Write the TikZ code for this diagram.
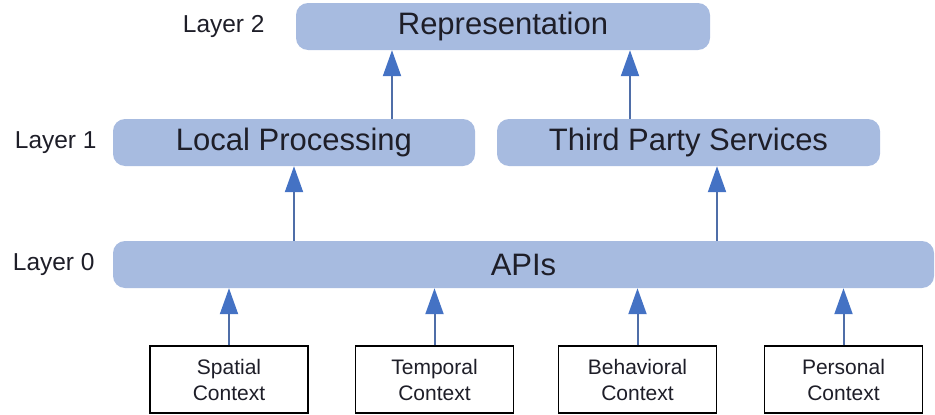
\documentclass[tikz,border=0pt]{standalone}
\usepackage{fontspec}
\setmainfont{Liberation Sans}
\usetikzlibrary{positioning,arrows.meta}
\definecolor{layerblue}{RGB}{167,187,224}
\definecolor{arrowline}{RGB}{79,110,168}
\definecolor{arrowhead}{RGB}{68,114,196}
\definecolor{textdark}{RGB}{30,30,40}
\tikzset{
  layerbox/.style={fill=layerblue, rounded corners=12pt, inner sep=0pt,
    minimum height=47pt, text=textdark, font=\fontsize{31}{36}\selectfont},
  ctxbox/.style={draw=black, line width=1.3pt, fill=white, inner sep=0pt,
    minimum width=158pt, minimum height=67pt, align=center, text=textdark,
    font=\fontsize{21}{26}\selectfont},
  layerlabel/.style={inner sep=0pt, text=textdark, font=\fontsize{24.5}{28}\selectfont},
  flow/.style={draw=arrowline, line width=2pt,
    -{Triangle[length=26pt,width=18pt,fill=arrowhead,color=arrowhead]}}
}
\begin{document}
\begin{tikzpicture}[x=1pt,y=-1pt]
\useasboundingbox (0,0) rectangle (935,415);
% layers
\node[layerbox, minimum width=414pt] (rep) at (503,26.5) {Representation};
\node[layerbox, minimum width=362pt] (local) at (294,142.5) {Local Processing};
\node[layerbox, minimum width=383pt] (third) at (688.5,142.5) {Third Party Services};
\node[layerbox, minimum width=821pt] (apis) at (523.5,264.5) {APIs};
% layer names
\node[layerlabel, left=31pt of rep] (lay2) {Layer 2};
\node[layerlabel, left=16pt of local] (lay1) {Layer 1};
\node[layerlabel, left=18pt of apis] (lay0) {Layer 0};
% context sources
\node[ctxbox] (spatial) at (229,379.5) {Spatial\\Context};
\node[ctxbox] (temporal) at (434.5,379.5) {Temporal\\Context};
\node[ctxbox] (behav) at (637.5,379.5) {Behavioral\\Context};
\node[ctxbox] (personal) at (843.5,379.5) {Personal\\Context};
% arrows
\foreach \src in {spatial,temporal,behav,personal}
  \draw[flow] (\src.north) -- (\src.north |- apis.south);
\draw[flow] (apis.north -| local) -- (local.south);
\draw[flow] ([xshift=28.5pt]third.south |- apis.north) -- ([xshift=28.5pt]third.south);
\draw[flow] ([xshift=98pt]local.north) -- ([xshift=98pt]local.north |- rep.south);
\draw[flow] ([xshift=-58.5pt]third.north) -- ([xshift=-58.5pt]third.north |- rep.south);
\end{tikzpicture}
\end{document}
